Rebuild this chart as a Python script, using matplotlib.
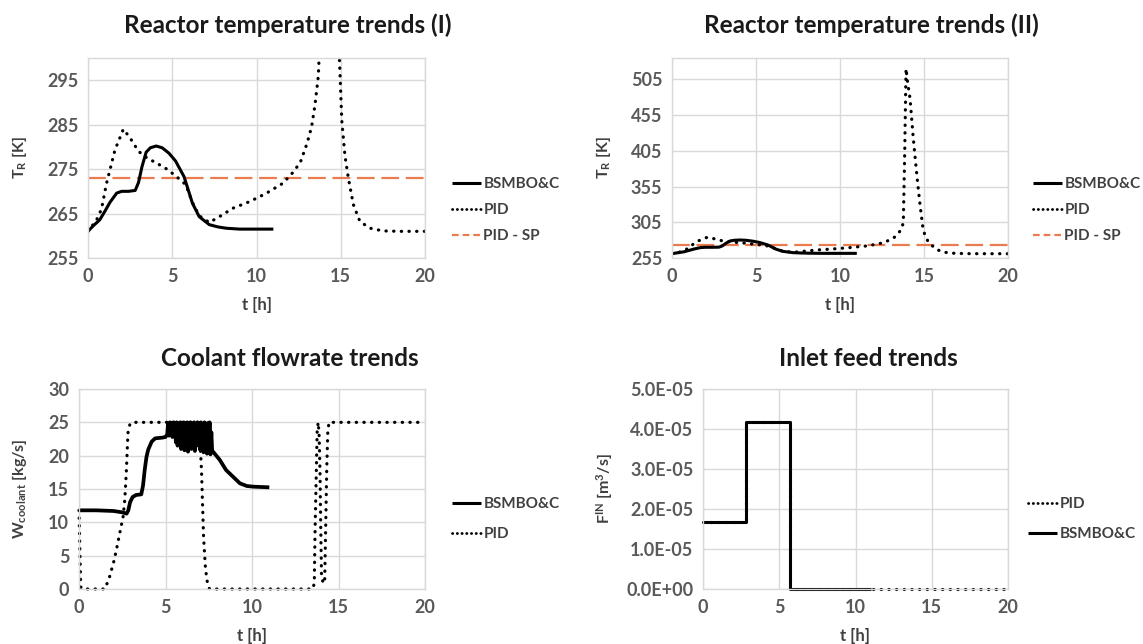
import matplotlib
matplotlib.use("Agg")
import matplotlib.pyplot as plt
from matplotlib.lines import Line2D

# ---------------- data ----------------
# Reactor temperature, BSMBO&C
temp_bsm_t = [0, 0.3, 0.7, 1.0, 1.3, 1.7, 2.0, 2.4, 2.8, 3.0, 3.2, 3.45, 3.7, 4.05, 4.4, 4.8, 5.2,
              5.7, 6.2, 6.6, 7.2, 7.7, 8.2, 9.0, 10.0, 11.0]
temp_bsm = [261, 262.2, 263.6, 265.5, 267.5, 269.6, 270, 270, 270.2, 272, 275.5, 278.8, 279.8, 280.2,
            279.8, 278.6, 276.8, 273.3, 267.3, 264.3, 262.5, 262, 261.7, 261.5, 261.5, 261.5]

# Reactor temperature, PID
temp_pid_t = [0, 0.5, 0.8, 1.1, 1.6, 2.1, 2.5, 3.0, 3.5, 4.0, 4.6, 5.2, 5.8, 6.2, 6.6, 7.2, 7.8, 8.6,
              9.6, 10.6, 11.56, 12.15, 12.6, 13.0, 13.27, 13.47, 13.67, 13.77, 13.85, 13.93, 14.0,
              14.17, 14.36, 14.57, 14.76, 14.92, 15.06, 15.25, 15.45, 15.75, 16.14, 16.74, 17.5,
              18.5, 20]
temp_pid = [261, 263.5, 266, 271.8, 279.3, 284, 282, 279, 277.5, 276.5, 275.2, 273.5, 271.5, 267.5,
            264.5, 263, 264.3, 266.2, 267.7, 269.6, 271.8, 274.2, 276.5, 280.8, 284.5, 289.4, 296,
            305, 400, 520, 505, 478, 423, 372, 330, 300, 286, 278, 273, 267, 263.2, 261.7, 261.1,
            261, 261]

# Set point
sp_t = [0, 20]
sp_val = [273, 273]

# Coolant flowrate, BSMBO&C
cool_bsm_t = [0, 1.0, 2.0, 2.5, 2.75, 2.85, 2.95, 3.1, 3.3, 3.6, 3.7, 3.8, 3.9, 4.0, 4.2, 4.4, 4.8, 5.0,
              5.10, 5.15, 5.20, 5.25, 5.30, 5.35, 5.40, 5.45, 5.50, 5.55, 5.60, 5.65, 5.70, 5.75,
              5.80, 5.85, 5.90, 5.95, 6.00, 6.05, 6.10, 6.15, 6.20, 6.25, 6.30, 6.35, 6.40, 6.45,
              6.50, 6.55, 6.60, 6.65, 6.70, 6.75, 6.80, 6.85, 6.90, 6.95, 7.00, 7.05, 7.10, 7.15,
              7.20, 7.25, 7.30, 7.35, 7.40, 7.45, 7.50, 7.55, 7.60, 7.65, 7.70,
              7.75, 8.14, 8.5, 8.9, 9.3, 9.7, 10.07, 11.0]
cool_bsm = [11.8, 11.8, 11.7, 11.5, 11.3, 11.8, 13.0, 13.8, 14.1, 14.2, 15.5, 17.9, 19.8, 20.9, 22.1,
            22.6, 22.7, 22.8,
            23.2, 24.8, 23.0, 25.0, 23.3, 24.9, 22.8, 25.0, 23.5, 24.7, 22.0, 25.0, 21.5, 24.8,
            22.5, 25.0, 21.0, 24.6, 22.2, 25.0, 20.8, 24.9, 21.8, 25.0, 20.6, 24.5, 22.5, 25.0,
            21.0, 24.8, 22.0, 25.0, 20.7, 24.6, 21.5, 25.0, 22.8, 24.9, 20.9, 25.0, 21.8, 24.7,
            20.5, 25.0, 22.0, 24.8, 20.3, 24.9, 21.5, 25.0, 20.2, 23.5, 20.5,
            20.6, 19.35, 17.85, 16.85, 15.85, 15.45, 15.35, 15.25]

# Coolant flowrate, PID
cool_pid_t = [0, 0.1, 0.2, 1.5, 1.77, 2.0, 2.16, 2.35, 2.55, 2.65, 2.74, 2.83, 2.95, 3.1, 6.94, 7.0,
              7.08, 7.2, 7.3, 7.37, 7.45, 7.55, 13.5, 13.6, 13.64, 13.72, 13.77, 13.83, 13.88, 13.93,
              13.98, 14.02, 14.12, 14.2, 14.25, 14.32, 14.38, 14.45, 14.6, 20]
cool_pid = [11.8, 0.3, 0, 0, 1.85, 4.0, 5.85, 8.3, 10.85, 13.5, 17.85, 23.4, 24.8, 25, 25, 22,
            17.85, 7.85, 3.5, 1.85, 0.5, 0, 0, 0.8, 8, 18, 24, 25, 23, 17.8,
            8, 1.85, 0.85, 1.0, 8, 18, 23.5, 25, 25, 25]

# Inlet feed (step profiles)
feed_bsm_t = [0, 2.8, 5.7, 11]
feed_bsm = [1.67e-5, 4.17e-5, 0, 0]
feed_pid_t = [0, 2.8, 5.7, 20]
feed_pid = [1.67e-5, 4.17e-5, 0, 0]

x_ticks = [0, 5, 10, 15, 20]
t1_ticks = [255, 265, 275, 285, 295]
t2_ticks = [255, 305, 355, 405, 455, 505]
cool_ticks = [0, 5, 10, 15, 20, 25, 30]
feed_ticks = [0, 1e-5, 2e-5, 3e-5, 4e-5, 5e-5]
feed_tick_labels = ["0.0E+00", "1.0E-05", "2.0E-05", "3.0E-05", "4.0E-05", "5.0E-05"]

# ---------------- style ----------------
FONT = "Lato"
plt.rcParams['font.family'] = [FONT, 'DejaVu Sans']
plt.rcParams['mathtext.fontset'] = 'custom'
plt.rcParams['mathtext.rm'] = 'Lato:bold'
plt.rcParams['mathtext.it'] = 'Lato:bold'
plt.rcParams['mathtext.bf'] = 'Lato:bold'
plt.rcParams['mathtext.default'] = 'rm'

TICK_C = '#595959'
LAB_C = '#404040'
GRID_C = '#d9d9d9'
SP_C = '#EA7A50'
DOT = (0, (0.1, 2.3))
SPDASH = (0, (8, 3))

W, H = 1143, 644
fig = plt.figure(figsize=(W / 100, H / 100), dpi=100)


def rect(l, r, t, b):
    return [l / W, (H - b) / H, (r - l) / W, (b - t) / H]


def style(ax, yticks, ylim, ylabel, ylab_px):
    ax.set_xlim(0, 20)
    ax.set_ylim(*ylim)
    ax.set_xticks(x_ticks)
    ax.set_yticks(yticks)
    ax.grid(True, color=GRID_C, lw=1.0)
    ax.set_axisbelow(True)
    for s in ax.spines.values():
        s.set_color(GRID_C)
        s.set_linewidth(1.0)
    ax.tick_params(length=0, labelsize=13, labelcolor=TICK_C, pad=7)
    for lab in ax.get_xticklabels() + ax.get_yticklabels():
        lab.set_fontweight('bold')
    ax.set_xlabel('t [h]', fontsize=12, fontweight='bold', color=LAB_C, labelpad=9)
    ax.set_ylabel(ylabel, fontsize=11.5, fontweight='bold', color=LAB_C)
    pos = ax.get_position()
    x_ax = (ylab_px / W - pos.x0) / pos.width
    ax.yaxis.set_label_coords(x_ax, 0.5)


def title(x, y, s):
    fig.text(x / W, 1 - y / H, s, ha='center', va='center', fontsize=17.5,
             fontweight='bold', color='#1a1a1a')


def legend(ax, handles, labels, x, y, spacing):
    ax.legend(handles, labels, loc='upper left', bbox_to_anchor=(x / W, 1 - y / H),
              bbox_transform=fig.transFigure, frameon=False,
              handlelength=1.9, handletextpad=0.15, labelspacing=spacing, borderpad=0,
              borderaxespad=0, labelcolor=LAB_C, prop={'weight': 'bold', 'size': 11})


solid_kw = dict(color='black', lw=2.2, solid_capstyle='butt')
dot_kw = dict(color='black', lw=2.3, ls=DOT, dash_capstyle='round')
sp_kw = dict(color=SP_C, lw=1.6, ls=SPDASH)

h_s = Line2D([], [], **solid_kw)
h_d = Line2D([], [], color='black', lw=2.0, ls=(0, (0.1, 1.6)), dash_capstyle='round')
h_sp = Line2D([], [], color=SP_C, lw=1.6, ls=(0, (3, 1.8)))

# Panel 1
ax1 = fig.add_axes(rect(88, 425, 58, 258))
ax1.plot(sp_t, sp_val, **sp_kw)
ax1.plot(temp_pid_t, temp_pid, **dot_kw)
ax1.plot(temp_bsm_t, temp_bsm, **solid_kw)
style(ax1, t1_ticks, (255, 300), r'T$_{\rm R}$ [K]', 29)
title(288, 25, 'Reactor temperature trends (I)')
legend(ax1, [h_s, h_d, h_sp], ['BSMBO&C', 'PID', 'PID - SP'], 452, 177, 0.8)

# Panel 2
ax2 = fig.add_axes(rect(672, 1008, 58, 258))
ax2.plot(sp_t, sp_val, **sp_kw)
ax2.plot(temp_pid_t, temp_pid, **dot_kw)
ax2.plot(temp_bsm_t, temp_bsm, **solid_kw)
style(ax2, t2_ticks, (255, 535), r'T$_{\rm R}$ [K]', 613)
title(871, 25, 'Reactor temperature trends (II)')
legend(ax2, [h_s, h_d, h_sp], ['BSMBO&C', 'PID', 'PID - SP'], 1033, 177, 0.8)

# Panel 3
ax3 = fig.add_axes(rect(79, 425, 389, 589))
ax3.plot(cool_pid_t, cool_pid, clip_on=False, **dot_kw)
ax3.plot(cool_bsm_t, cool_bsm, clip_on=False, **dict(solid_kw, lw=2.7))
style(ax3, cool_ticks, (0, 30), r'W$_{\rm coolant}$ [kg/s]', 29)
title(290, 358, 'Coolant flowrate trends')
legend(ax3, [h_s, h_d], ['BSMBO&C', 'PID'], 452, 497, 1.05)

# Panel 4
ax4 = fig.add_axes(rect(703, 1008, 389, 589))
ax4.plot(feed_pid_t, feed_pid, drawstyle='steps-post', clip_on=False, **dot_kw)
ax4.plot(feed_bsm_t, feed_bsm, drawstyle='steps-post', clip_on=False, **solid_kw)
style(ax4, feed_ticks, (0, 5e-5), r'F$^{\rm IN}$ [m$^{\rm 3}$/s]', 615)
ax4.set_yticklabels(feed_tick_labels)
for lab in ax4.get_yticklabels():
    lab.set_fontweight('bold')
title(868, 358, 'Inlet feed trends')
legend(ax4, [h_d, h_s], ['PID', 'BSMBO&C'], 1028, 497, 1.05)

fig.savefig('out.png', dpi=100, facecolor='white')
